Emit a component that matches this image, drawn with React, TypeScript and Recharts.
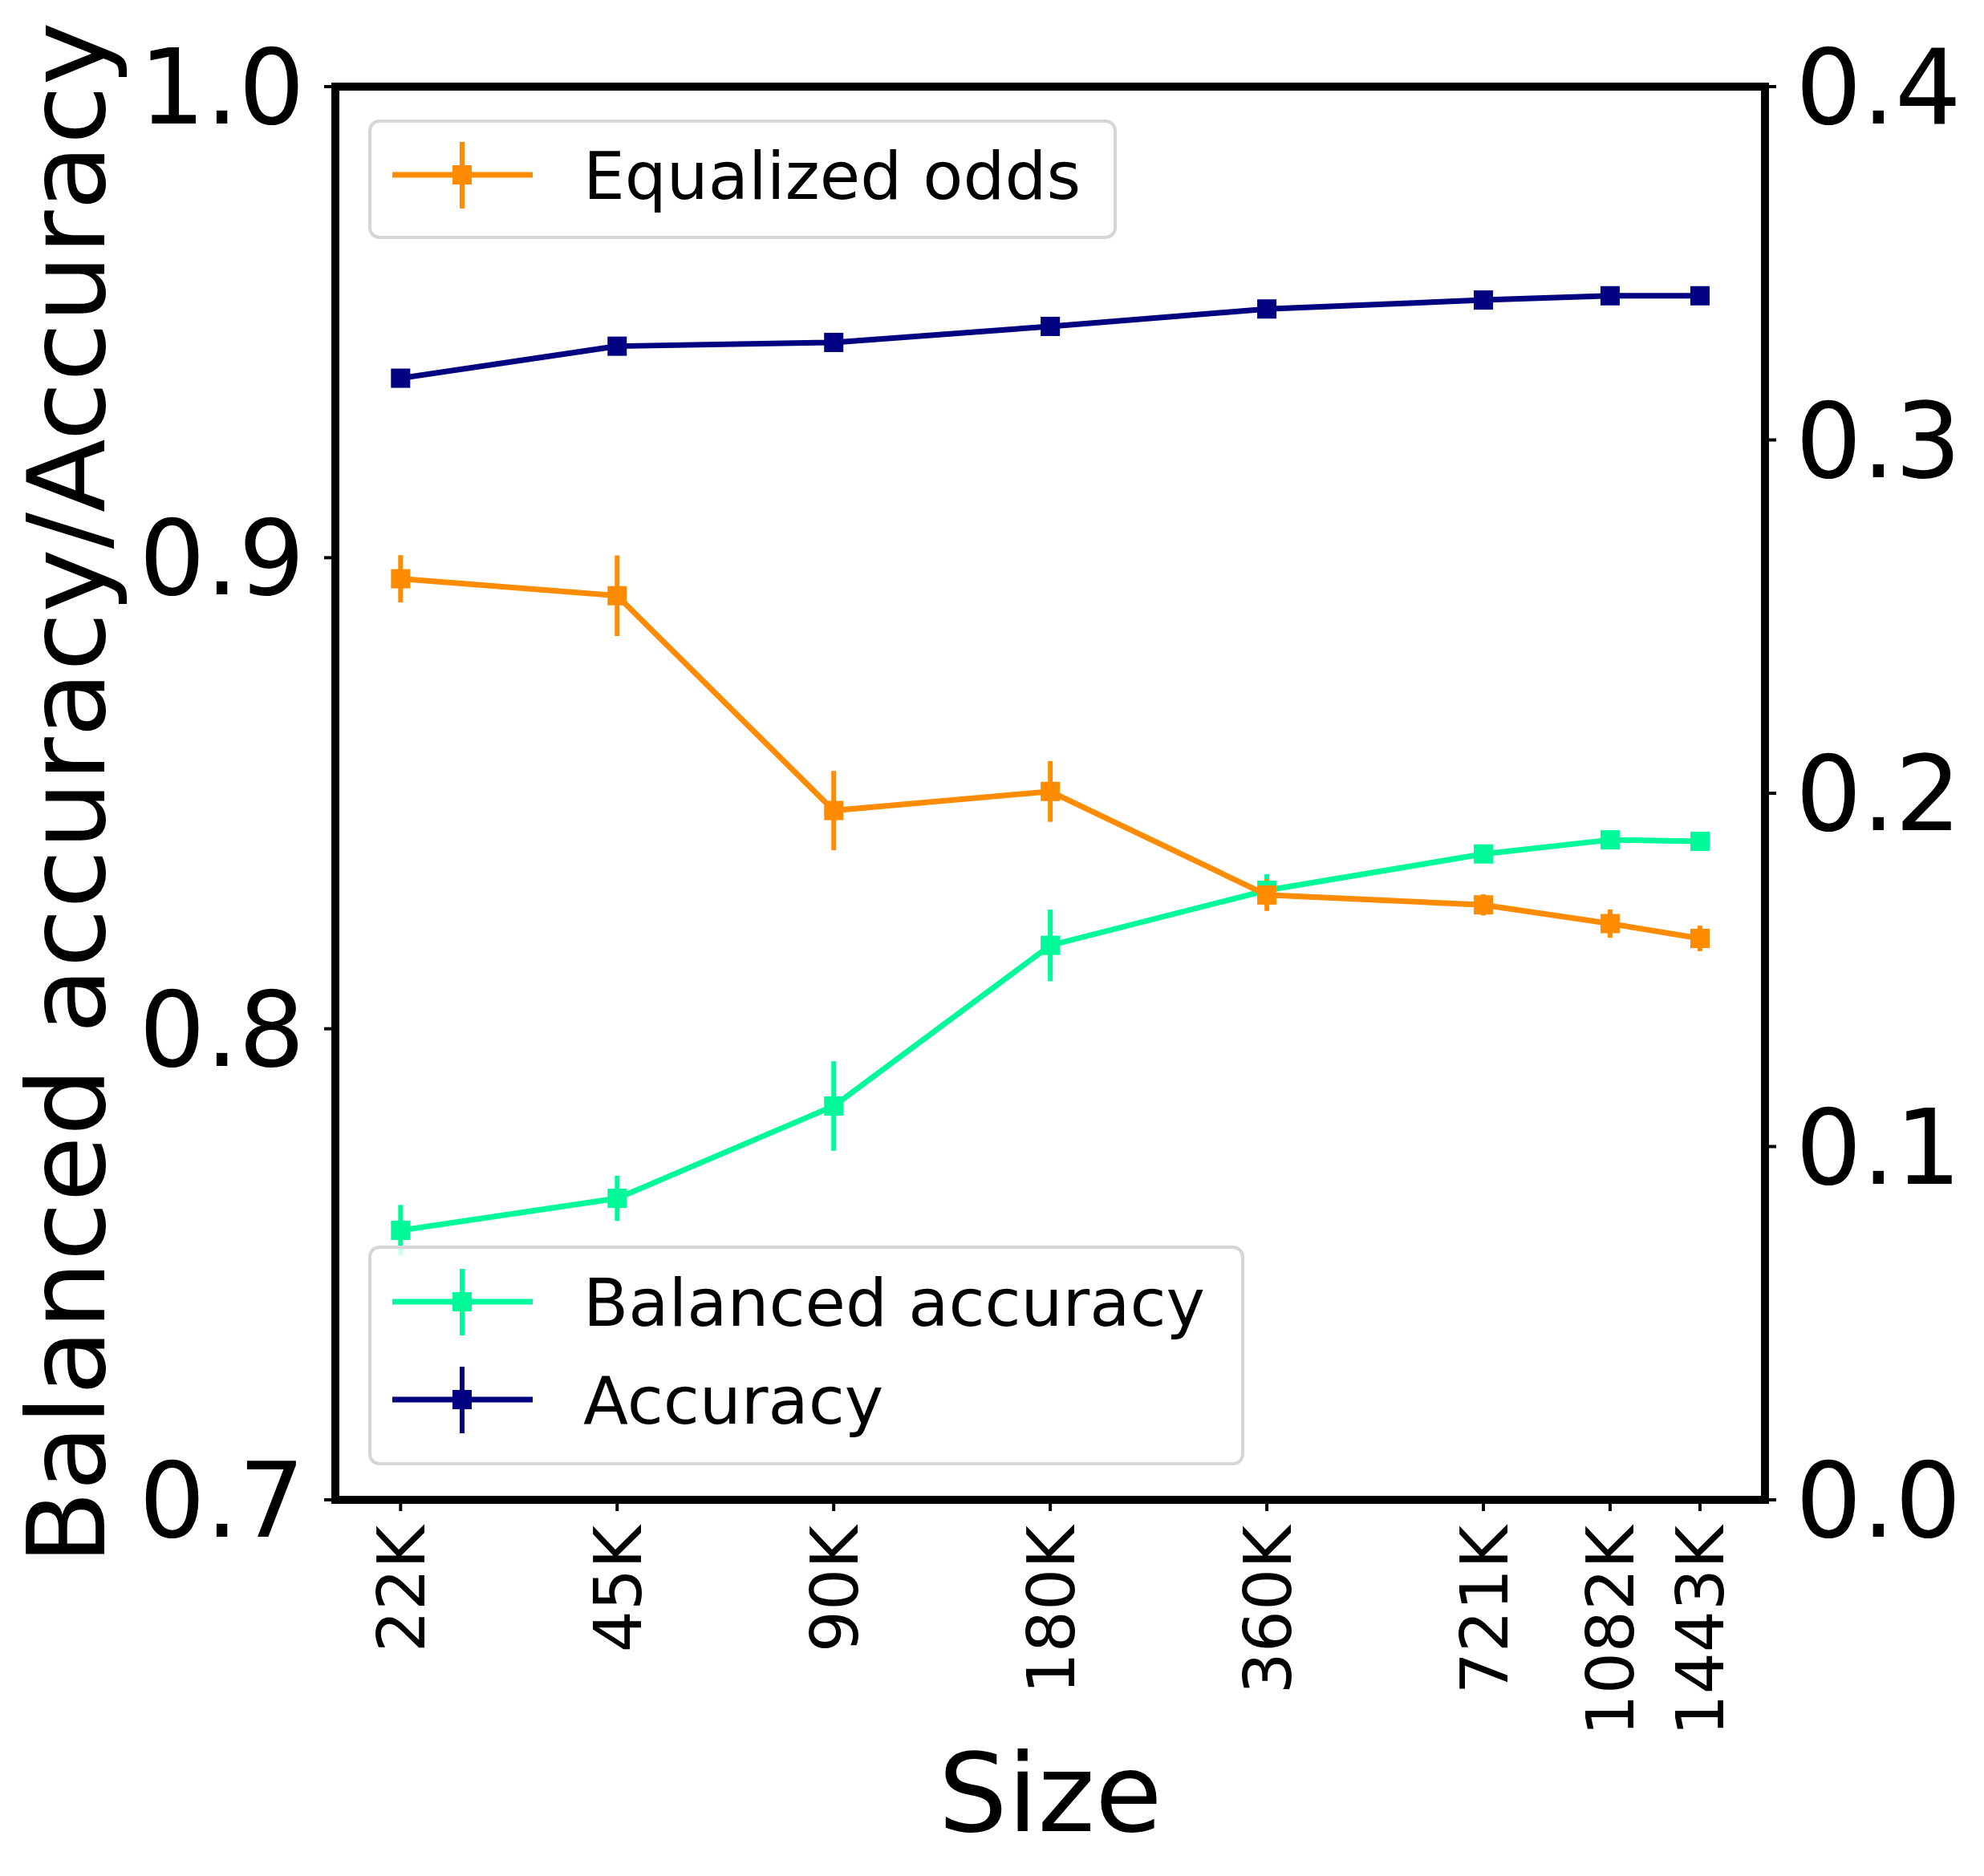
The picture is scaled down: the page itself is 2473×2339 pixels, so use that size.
import { LineChart, Line, XAxis, YAxis, ErrorBar } from 'recharts';

// dataset sizes (thousands of rows) and the labels shown on the x axis
const sizes = [22.55, 45.1, 90.2, 180.4, 360.8, 721.6, 1082.4, 1443.2];
const sizeLabels = ['22K', '45K', '90K', '180K', '360K', '721K', '1082K', '1443K'];

// left axis
const balancedAcc = [0.7572, 0.764, 0.7836, 0.8177, 0.8294, 0.8371, 0.8401, 0.8398];
const balancedAccErr = [0.0054, 0.0048, 0.0095, 0.0076, 0.0034, 0.0015, 0.001, 0.001];
const accuracy = [0.9381, 0.9449, 0.9457, 0.9491, 0.9528, 0.9547, 0.9556, 0.9556];
const accuracyErr = [0.0008, 0.0006, 0.0006, 0.0005, 0.0005, 0.0004, 0.0004, 0.0004];

// right axis
const eqOdds = [0.2607, 0.2559, 0.1951, 0.2005, 0.1712, 0.1684, 0.1631, 0.1589];
const eqOddsErr = [0.0067, 0.0114, 0.0112, 0.0086, 0.0045, 0.003, 0.004, 0.0036];

const leftTicks = [0.7, 0.8, 0.9, 1.0];
const rightTicks = [0, 0.1, 0.2, 0.3, 0.4];

const GREEN = '#00fa9a';
const NAVY = '#000080';
const ORANGE = '#ff8c00';
const FONT = '"DejaVu Sans", sans-serif';

if (typeof document !== 'undefined') document.body.style.margin = '0';

const data = sizes.map((s, i) => ({
  size: s,
  bal: balancedAcc[i],
  balErr: balancedAccErr[i],
  acc: accuracy[i],
  accErr: accuracyErr[i],
  eo: eqOdds[i],
  eoErr: eqOddsErr[i],
}));

const square = (color: string) => (props: any) => {
  const { cx, cy, index } = props;
  if (cx == null || cy == null) return <g key={`n-${index}`} />;
  return <rect key={`sq-${color}-${index}`} x={cx - 12} y={cy - 12} width={24} height={24} fill={color} />;
};

const XTick = (props: any) => {
  const { x, y, payload } = props;
  const i = sizes.indexOf(payload.value);
  return (
    <text
      x={x}
      y={y}
      transform={`rotate(-90 ${x} ${y})`}
      textAnchor="end"
      dy="0.36em"
      fontSize={82}
      fill="#000"
      fontFamily={FONT}
    >
      {i >= 0 ? sizeLabels[i] : ''}
    </text>
  );
};

const YTitle = (props: any) => {
  const vb = props.viewBox || { x: 0, y: 108, width: 418, height: 1762 };
  const cx = 82;
  const cy = vb.y + vb.height / 2;
  return (
    <text
      x={cx}
      y={cy}
      transform={`rotate(-90 ${cx} ${cy})`}
      textAnchor="middle"
      dy="0.36em"
      fontSize={134}
      fill="#000"
      fontFamily={FONT}
    >
      Balanced accuracy/Accuracy
    </text>
  );
};

function Handle({ x, y, color }: { x: number; y: number; color: string }) {
  return (
    <g>
      <line x1={x} x2={x + 175} y1={y} y2={y} stroke={color} strokeWidth={7} />
      <line x1={x + 87} x2={x + 87} y1={y - 41} y2={y + 42} stroke={color} strokeWidth={6} />
      <rect x={x + 75} y={y - 12} width={24} height={24} fill={color} />
    </g>
  );
}

function Legends() {
  const box = { fill: 'rgba(255,255,255,0.8)', stroke: '#d6d6d6', strokeWidth: 4 };
  const txt = { fontSize: 82, fill: '#000', fontFamily: FONT };
  return (
    <svg
      width={2473}
      height={2339}
      style={{ position: 'absolute', left: 0, top: 0, pointerEvents: 'none' }}
    >
      <rect x={461} y={151} width={929} height={145} rx={12} {...box} />
      <Handle x={489} y={218} color={ORANGE} />
      <text x={727} y={218} dy="0.36em" {...txt}>Equalized odds</text>

      <rect x={461} y={1555} width={1088} height={270} rx={12} {...box} />
      <Handle x={489} y={1623} color={GREEN} />
      <text x={727} y={1623} dy="0.36em" {...txt}>Balanced accuracy</text>
      <Handle x={489} y={1745} color={NAVY} />
      <text x={727} y={1745} dy="0.36em" {...txt}>Accuracy</text>
    </svg>
  );
}

export default function App() {
  const spine = { stroke: '#000', strokeWidth: 10, strokeLinecap: 'square' as const };
  const tickLine = { stroke: '#000', strokeWidth: 4 };
  const tickFont = { fontSize: 130, fill: '#000', fontFamily: FONT };
  return (
    <div style={{ position: 'relative', width: 2473, height: 2339, background: '#fff', fontFamily: FONT }}>
      <LineChart width={2473} height={2339} data={data} margin={{ top: 107, right: 0, bottom: 0, left: 0 }}>
        <XAxis
          dataKey="size"
          type="number"
          scale="log"
          domain={[18.3, 1777]}
          ticks={sizes}
          interval={0}
          height={469}
          tickSize={14}
          tickMargin={18}
          axisLine={spine}
          tickLine={tickLine}
          tick={<XTick />}
          label={{ value: 'Size', position: 'insideBottom', offset: 56, fontSize: 136, fill: '#000', fontFamily: FONT }}
        />
        <XAxis
          xAxisId="top"
          orientation="top"
          dataKey="size"
          type="number"
          scale="log"
          domain={[18.3, 1777]}
          ticks={sizes}
          height={1}
          tick={false}
          tickLine={false}
          axisLine={spine}
        />
        <YAxis
          yAxisId="left"
          domain={[0.7, 1.0]}
          ticks={leftTicks}
          width={418}
          tickSize={14}
          tickMargin={24}
          axisLine={spine}
          tickLine={tickLine}
          tick={tickFont}
          tickFormatter={(v: number) => v.toFixed(1)}
          label={<YTitle />}
        />
        <YAxis
          yAxisId="right"
          orientation="right"
          domain={[0, 0.4]}
          ticks={rightTicks}
          width={273}
          tickSize={14}
          tickMargin={24}
          axisLine={spine}
          tickLine={tickLine}
          tick={tickFont}
          tickFormatter={(v: number) => v.toFixed(1)}
        />
        <Line
          yAxisId="left"
          dataKey="bal"
          stroke={GREEN}
          strokeWidth={7}
          dot={square(GREEN)}
          activeDot={false}
          isAnimationActive={false}
        >
          <ErrorBar dataKey="balErr" direction="y" width={0} stroke={GREEN} strokeWidth={6} isAnimationActive={false} />
        </Line>
        <Line
          yAxisId="left"
          dataKey="acc"
          stroke={NAVY}
          strokeWidth={7}
          dot={square(NAVY)}
          activeDot={false}
          isAnimationActive={false}
        >
          <ErrorBar dataKey="accErr" direction="y" width={0} stroke={NAVY} strokeWidth={6} isAnimationActive={false} />
        </Line>
        <Line
          yAxisId="right"
          dataKey="eo"
          stroke={ORANGE}
          strokeWidth={7}
          dot={square(ORANGE)}
          activeDot={false}
          isAnimationActive={false}
        >
          <ErrorBar dataKey="eoErr" direction="y" width={0} stroke={ORANGE} strokeWidth={6} isAnimationActive={false} />
        </Line>
      </LineChart>
      <Legends />
    </div>
  );
}
